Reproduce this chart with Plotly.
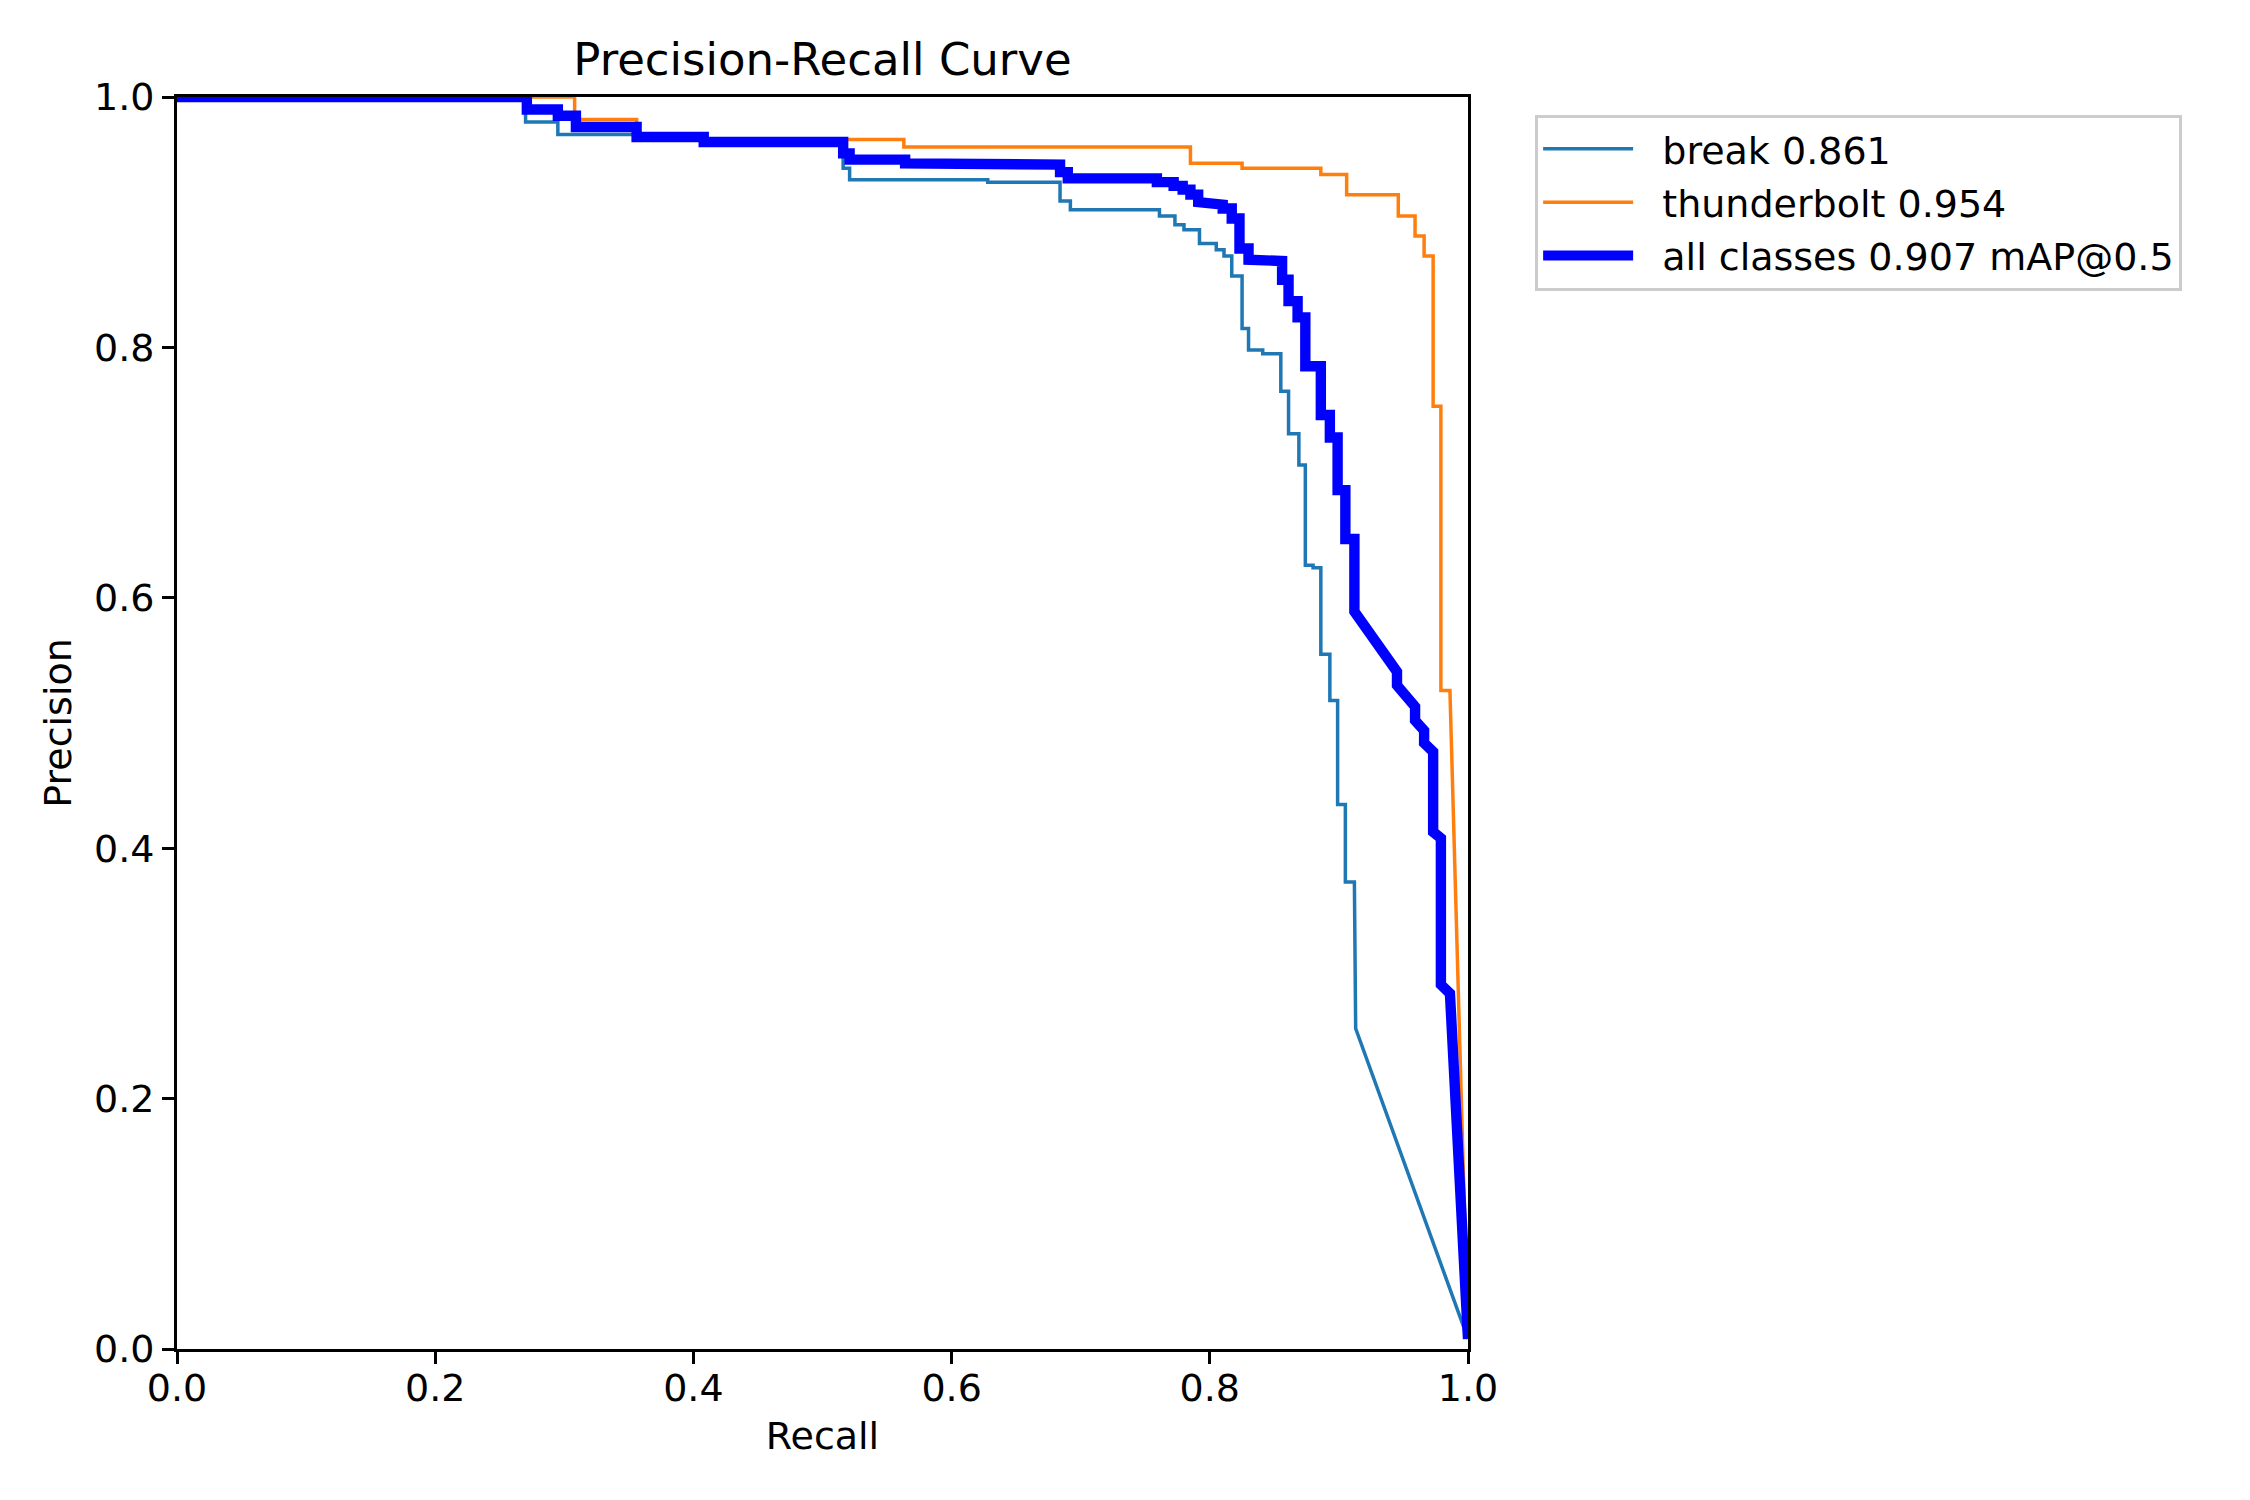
import plotly.graph_objects as go

# step corners
break_recall = [0.0, 0.270, 0.270, 0.295, 0.295, 0.408, 0.408, 0.516, 0.516, 0.521, 0.521,
                0.628, 0.628, 0.684, 0.684, 0.692, 0.692, 0.761, 0.761, 0.773, 0.773,
                0.780, 0.780, 0.792, 0.792, 0.805, 0.805, 0.811, 0.811, 0.817, 0.817,
                0.825, 0.825, 0.830, 0.830, 0.841, 0.841, 0.855, 0.855, 0.861, 0.861,
                0.869, 0.869, 0.874, 0.874, 0.880, 0.880, 0.886, 0.886, 0.893, 0.893,
                0.899, 0.899, 0.905, 0.905, 0.912, 0.913, 1.0]
break_precision = [1.0, 1.0, 0.980, 0.980, 0.970, 0.970, 0.962, 0.962, 0.943, 0.943, 0.934,
                   0.934, 0.932, 0.932, 0.917, 0.917, 0.910, 0.910, 0.905, 0.905, 0.898,
                   0.898, 0.894, 0.894, 0.883, 0.883, 0.878, 0.878, 0.873, 0.873, 0.857,
                   0.857, 0.815, 0.815, 0.798, 0.798, 0.795, 0.795, 0.765, 0.765, 0.731,
                   0.731, 0.706, 0.706, 0.626, 0.626, 0.624, 0.624, 0.555, 0.555, 0.518,
                   0.518, 0.435, 0.435, 0.373, 0.373, 0.256, 0.008]

thunder_recall = [0.0, 0.308, 0.308, 0.356, 0.356, 0.563, 0.563, 0.785, 0.785, 0.825, 0.825,
                  0.886, 0.886, 0.906, 0.906, 0.946, 0.946, 0.959, 0.959, 0.966, 0.966,
                  0.973, 0.973, 0.979, 0.979, 0.986, 1.0]
thunder_precision = [1.0, 1.0, 0.982, 0.982, 0.966, 0.966, 0.960, 0.960, 0.947, 0.947, 0.943,
                     0.943, 0.938, 0.938, 0.922, 0.922, 0.905, 0.905, 0.889, 0.889, 0.873,
                     0.873, 0.753, 0.753, 0.526, 0.526, 0.008]

all_recall = [0.0, 0.271, 0.271, 0.295, 0.295, 0.309, 0.309, 0.356, 0.356, 0.408, 0.408,
              0.516, 0.516, 0.521, 0.521, 0.564, 0.564, 0.628, 0.628, 0.684, 0.684,
              0.690, 0.690, 0.759, 0.759, 0.772, 0.772, 0.779, 0.779, 0.785, 0.785,
              0.791, 0.791, 0.804, 0.804, 0.810, 0.810, 0.817, 0.817, 0.823, 0.823,
              0.830, 0.830, 0.843, 0.843, 0.856, 0.856, 0.861, 0.861, 0.868, 0.868,
              0.874, 0.874, 0.886, 0.886, 0.893, 0.893, 0.899, 0.899, 0.905, 0.905,
              0.912, 0.912, 0.945, 0.945, 0.959, 0.959, 0.966, 0.966, 0.973, 0.973,
              0.979, 0.979, 0.986, 1.0]
all_precision = [1.0, 1.0, 0.990, 0.990, 0.985, 0.985, 0.976, 0.976, 0.968, 0.968, 0.964,
                 0.964, 0.955, 0.955, 0.950, 0.950, 0.947, 0.947, 0.946, 0.946, 0.940,
                 0.940, 0.935, 0.935, 0.932, 0.932, 0.929, 0.929, 0.926, 0.926, 0.922,
                 0.922, 0.916, 0.916, 0.914, 0.914, 0.911, 0.911, 0.903, 0.903, 0.879,
                 0.879, 0.870, 0.870, 0.869, 0.869, 0.854, 0.854, 0.837, 0.837, 0.824,
                 0.824, 0.785, 0.785, 0.746, 0.746, 0.728, 0.728, 0.686, 0.686, 0.647,
                 0.647, 0.589, 0.541, 0.530, 0.513, 0.502, 0.494, 0.484, 0.477, 0.413,
                 0.408, 0.291, 0.284, 0.008]

ap_break = 0.861
ap_thunder = 0.954
map50 = 0.907

FONT = "DejaVu Sans"
GAP = "\u00a0\u00a0"  # space between legend line and its text

fig = go.Figure()
fig.add_trace(go.Scatter(x=break_recall, y=break_precision, mode="lines",
                         name=f"{GAP}break {ap_break:.3f}", legendgroup="a",
                         line=dict(color="#1f77b4", width=3.5)))
fig.add_trace(go.Scatter(x=thunder_recall, y=thunder_precision, mode="lines",
                         name=f"{GAP}thunderbolt {ap_thunder:.3f}", legendgroup="b",
                         line=dict(color="#ff7f0e", width=3.5)))
fig.add_trace(go.Scatter(x=all_recall, y=all_precision, mode="lines",
                         name=f"{GAP}all classes {map50:.3f} mAP@0.5", legendgroup="c",
                         line=dict(color="#0000ff", width=10.4)))

axis_style = dict(range=[0, 1], dtick=0.2, tickformat=".1f", showgrid=False, zeroline=False,
                  showline=True, mirror=True, linecolor="black", linewidth=2.8,
                  ticks="outside", ticklen=12, tickwidth=2.8, tickcolor="black",
                  tickfont=dict(family=FONT, size=38, color="black"))

fig.update_xaxes(**axis_style, ticklabelstandoff=-9,
                 title=dict(text="Recall", standoff=14,
                            font=dict(family=FONT, size=38, color="black")))
fig.update_yaxes(**axis_style,
                 title=dict(text="Precision", standoff=11,
                            font=dict(family=FONT, size=38, color="black")))

# the page body adds an 8px margin, so the figure is 8px smaller and shifted
fig.update_layout(
    width=2242, height=1492,
    margin=dict(l=169, r=782, t=89, b=151),
    paper_bgcolor="white", plot_bgcolor="white",
    font=dict(family=FONT, color="black"),
    title=dict(text="Precision-Recall Curve", x=0.5, xref="paper", xanchor="center",
               y=1, yref="paper", yanchor="bottom", pad=dict(b=22),
               font=dict(family=FONT, size=45, color="black")),
    legend=dict(x=1.052, y=0.986, xanchor="left", yanchor="top",
                bordercolor="#cccccc", borderwidth=3, bgcolor="white",
                font=dict(family=FONT, size=38, color="black"),
                itemwidth=90, tracegroupgap=1),
    showlegend=True,
)

fig.write_html("out.html")
